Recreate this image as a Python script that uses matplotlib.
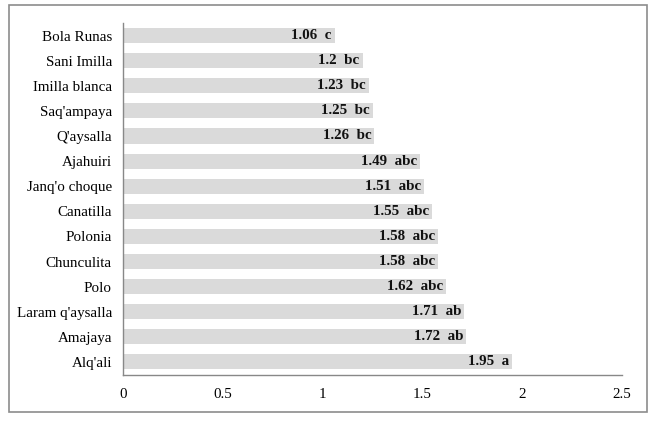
import matplotlib.pyplot as plt
from matplotlib.patches import Rectangle

# data (top to bottom)
varieties = ["Bola Runas", "Sani Imilla", "Imilla blanca", "Saq'ampaya", "Q'aysalla",
             "Ajahuiri", "Janq'o choque", "Canatilla", "Polonia", "Chunculita",
             "Polo", "Laram q'aysalla", "Amajaya", "Alq'ali"]
means = [1.06, 1.20, 1.23, 1.25, 1.26, 1.49, 1.51, 1.55, 1.58, 1.58, 1.62, 1.71, 1.72, 1.95]
value_text = ["1.06", "1.2", "1.23", "1.25", "1.26", "1.49", "1.51", "1.55", "1.58", "1.58",
              "1.62", "1.71", "1.72", "1.95"]
groups = ["c", "bc", "bc", "bc", "bc", "abc", "abc", "abc", "abc", "abc", "abc", "ab", "ab", "a"]
xticks = [0, 0.5, 1, 1.5, 2, 2.5]

plt.rcParams['font.family'] = ['Liberation Serif', 'DejaVu Serif']
plt.rcParams['hatch.color'] = '#c8c8c8'
plt.rcParams['hatch.linewidth'] = 0.5

fig = plt.figure(figsize=(6.54, 4.21), dpi=100)
ax = fig.add_axes([123/654, 1 - 374.5/421, (622 - 123)/654, (374.5 - 23)/421])

pos = list(range(len(varieties)))
ax.barh(pos, means, height=0.6, color='#dadada', hatch='/////', edgecolor='#dadada', linewidth=0)
for p, m, v, g in zip(pos, means, value_text, groups):
    ax.text(m - 0.015, p, v + "  " + g, ha='right', va='center', fontsize=10.8,
            fontweight='bold', color='#111111')

ax.set_ylim(len(varieties) - 0.5, -0.5)
ax.set_xlim(0, 2.5)
ax.set_yticks(pos)
ax.set_yticklabels(varieties, fontsize=10.8)
ax.set_xticks(xticks)
ax.set_xticklabels([f"{t:g}" for t in xticks], fontsize=10.8)
ax.tick_params(length=0, pad=8)
ax.tick_params(axis='x', pad=10)
for s in ['top', 'right']:
    ax.spines[s].set_visible(False)
for s in ['left', 'bottom']:
    ax.spines[s].set_color('#888888')
    ax.spines[s].set_linewidth(1)

# outer frame
fig.patches.append(Rectangle((9/654, 1 - 411.5/421), (647 - 9)/654, (411.5 - 4.5)/421,
                             transform=fig.transFigure, fill=False, edgecolor='#8c8c8c',
                             linewidth=1.2))

fig.savefig("out.png", dpi=100)
